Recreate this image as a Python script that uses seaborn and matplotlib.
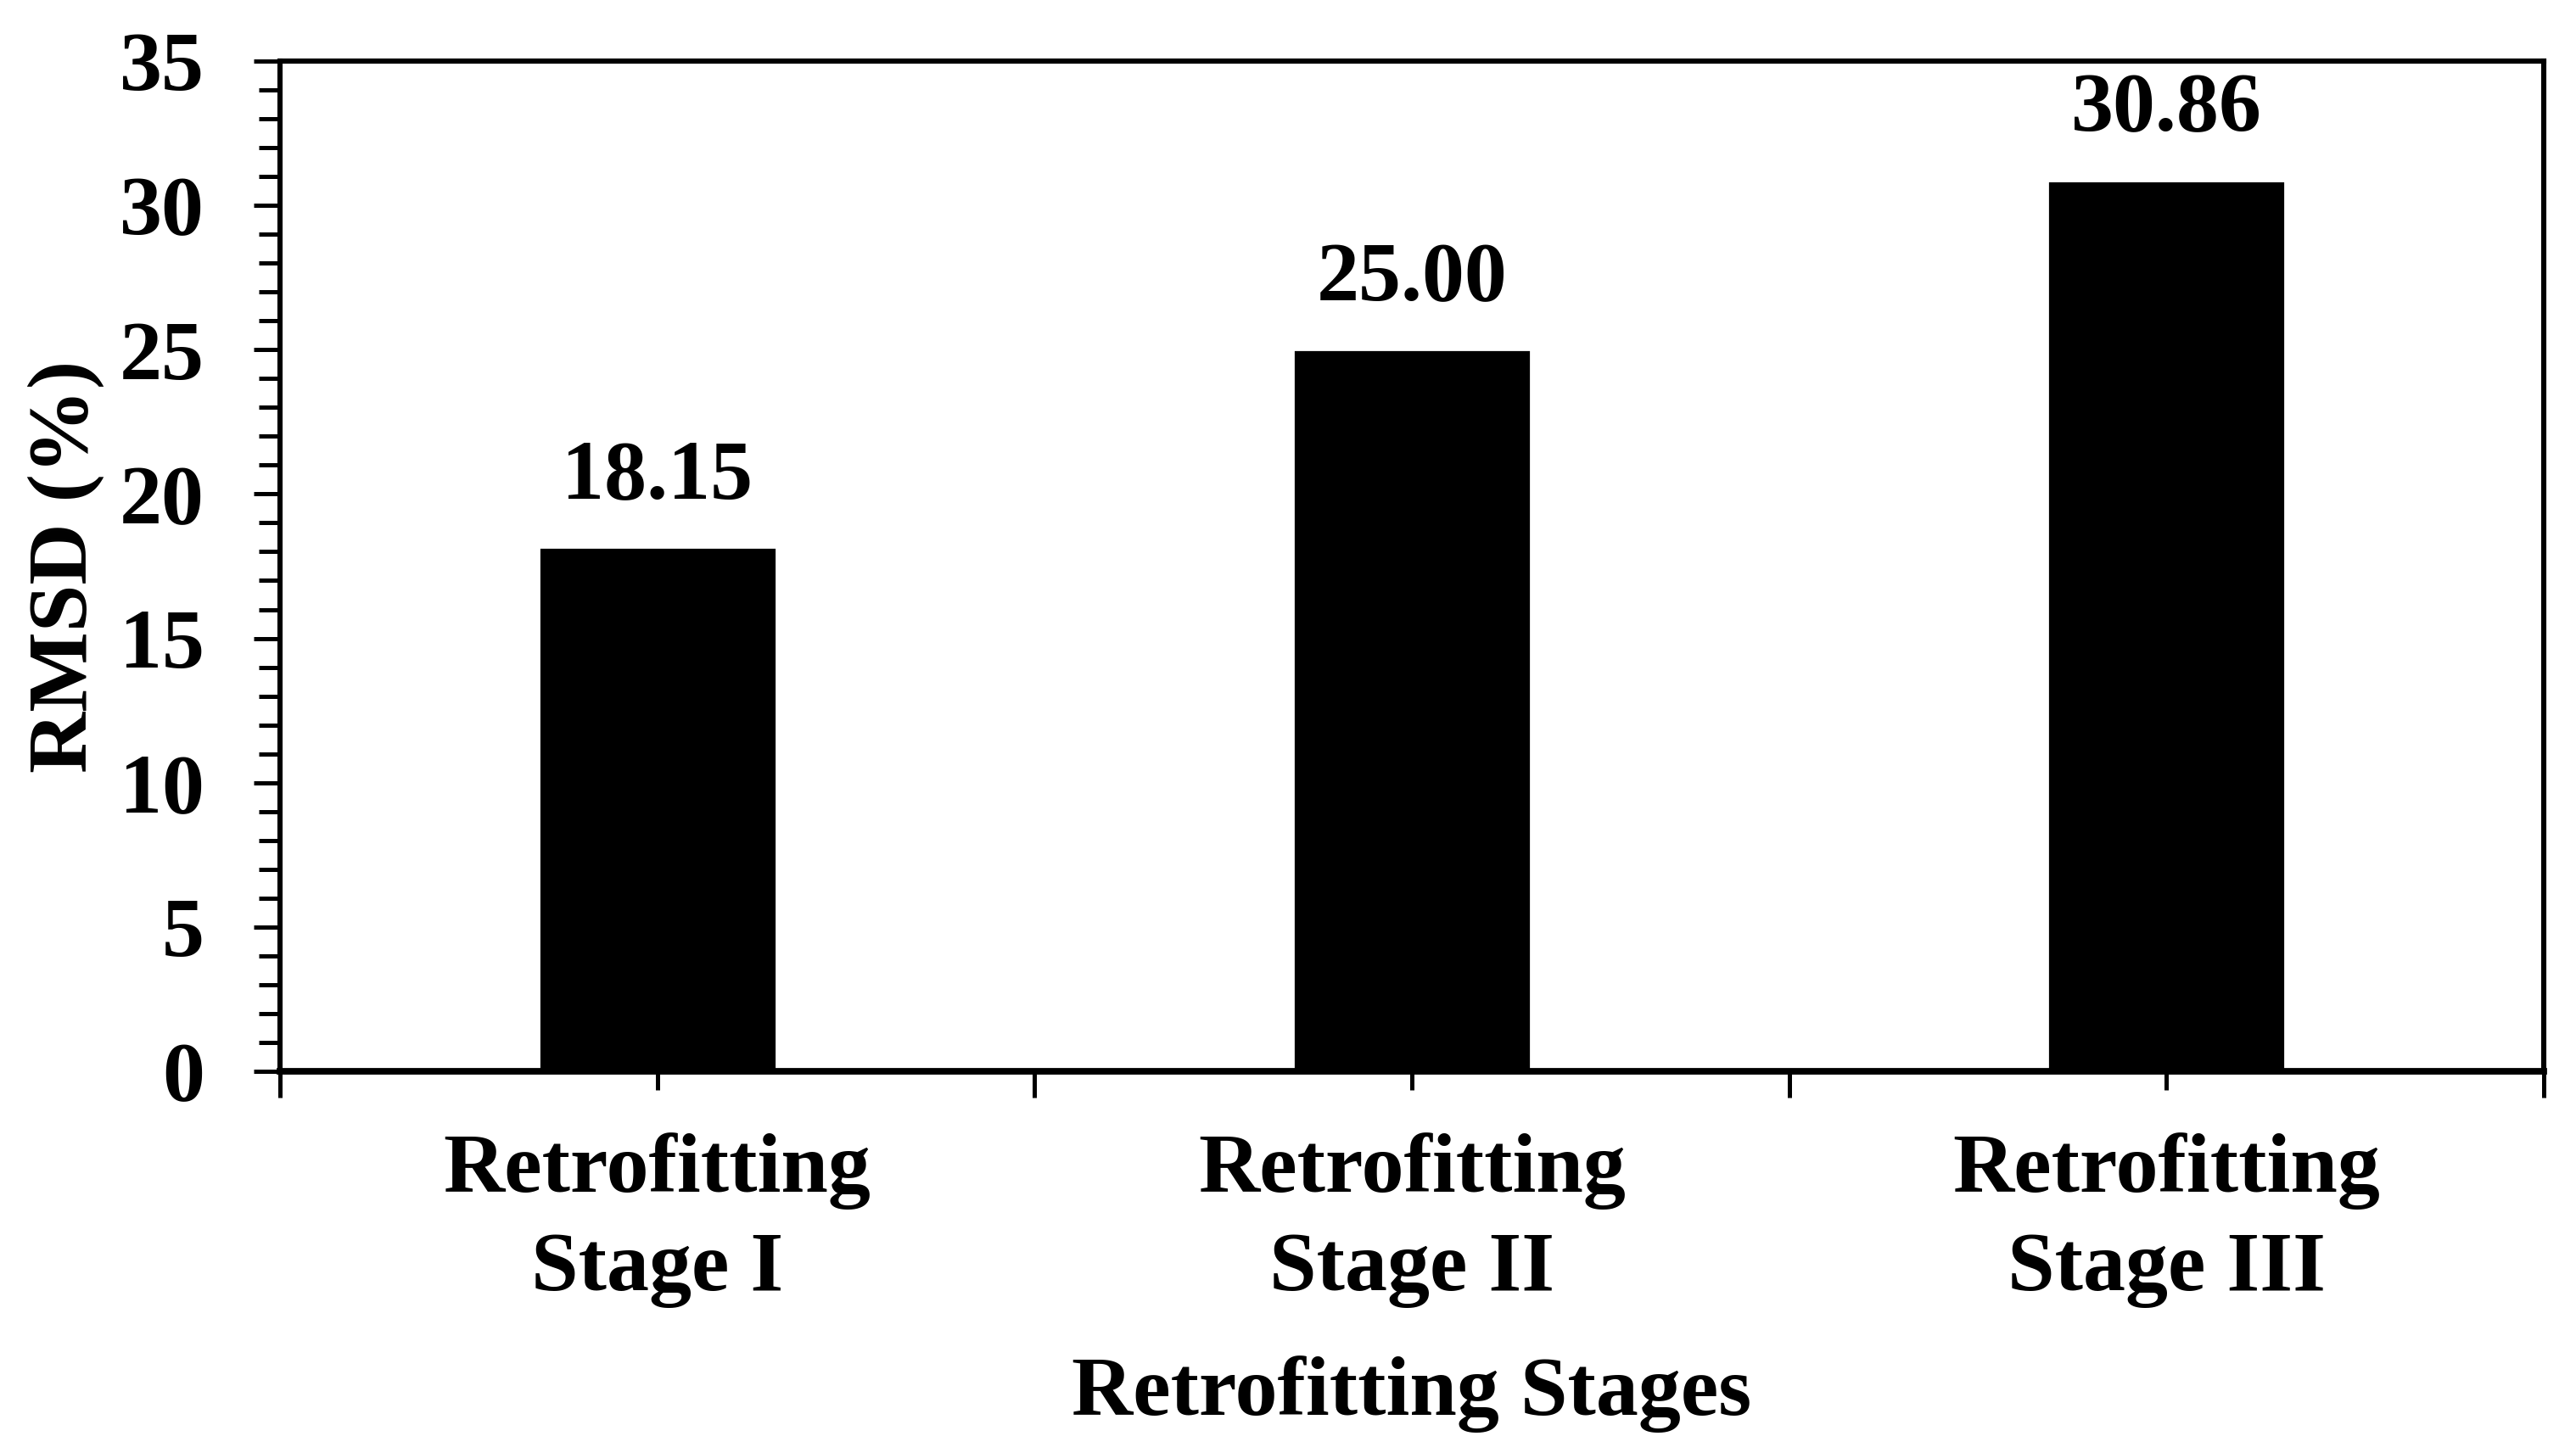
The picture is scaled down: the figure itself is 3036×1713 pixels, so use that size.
import pandas as pd
import matplotlib.pyplot as plt
import seaborn as sns
from matplotlib.ticker import MultipleLocator, FixedLocator

# Data
stages = ["Retrofitting\nStage I", "Retrofitting\nStage II", "Retrofitting\nStage III"]
rmsd = [18.15, 25.00, 30.86]

df = pd.DataFrame({"Stage": stages, "RMSD": rmsd})

sns.set_style("white")
plt.rcParams['font.family'] = ['Liberation Serif', 'DejaVu Serif']
plt.rcParams['font.weight'] = 'bold'
plt.rcParams['text.color'] = 'black'
plt.rcParams['axes.labelcolor'] = 'black'
plt.rcParams['xtick.color'] = 'black'
plt.rcParams['ytick.color'] = 'black'

fig = plt.figure(figsize=(15.18, 8.565), dpi=200)
ax = fig.add_axes([0.1087, 0.2627, 0.8788, 0.6953])

sns.barplot(data=df, x="Stage", y="RMSD", color="black", saturation=1,
            width=0.315, ax=ax)

ax.set_ylim(0, 35)
ax.set_xlim(-0.5, 2.5)
ax.yaxis.set_major_locator(MultipleLocator(5))
ax.yaxis.set_minor_locator(MultipleLocator(1))
ax.xaxis.set_minor_locator(FixedLocator([-0.5, 0.5, 1.5, 2.5]))

fs = 36
ax.tick_params(axis='y', which='major', direction='out', length=11, width=1.8,
               pad=21, labelsize=fs, left=True, colors='black')
ax.tick_params(axis='y', which='minor', direction='out', length=9, width=1.8, left=True, colors='black')
ax.tick_params(axis='x', which='major', direction='out', length=8, width=1.8,
               pad=18, labelsize=fs, bottom=True, colors='black')
ax.tick_params(axis='x', which='minor', direction='out', length=11, width=1.8, bottom=True, colors='black')

for lbl in ax.get_xticklabels() + ax.get_yticklabels():
    lbl.set_fontweight('bold')
    lbl.set_color('black')
for lbl in ax.get_xticklabels():
    lbl.set_linespacing(1.38)

for side in ['left', 'right', 'top']:
    ax.spines[side].set_linewidth(2.2)
    ax.spines[side].set_color('black')
ax.spines['bottom'].set_linewidth(2.8)
ax.spines['bottom'].set_color('black')

ax.bar_label(ax.containers[0], fmt='%.2f', padding=13.5, fontsize=fs,
             fontweight='bold', color='black')

ax.set_xlabel("Retrofitting Stages", fontsize=fs, fontweight='bold', labelpad=20, color='black')
ax.set_ylabel("RMSD (%)", fontsize=fs, fontweight='bold', labelpad=6.5, color='black')

fig.savefig("out.png", dpi=200, facecolor='white')
